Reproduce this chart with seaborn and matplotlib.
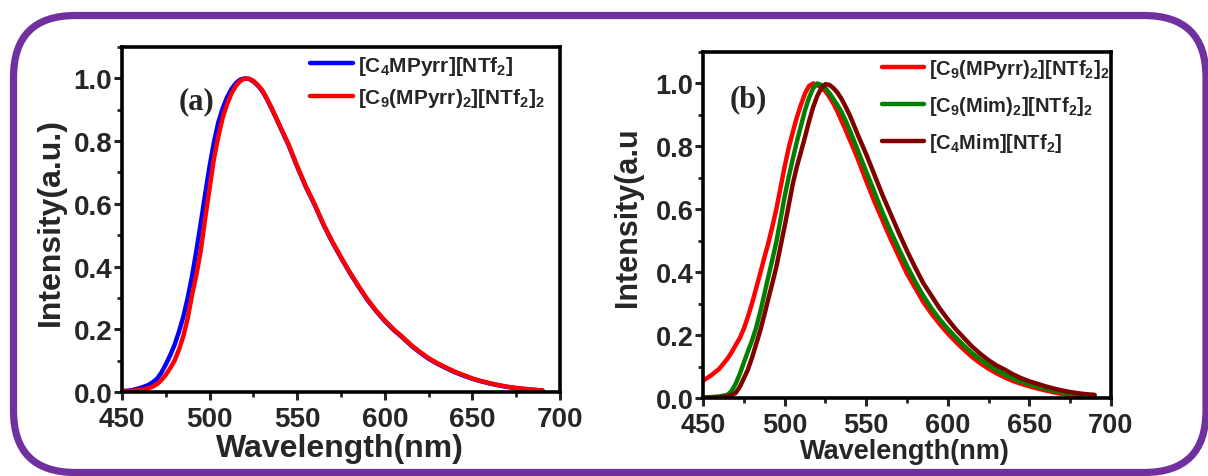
import numpy as np
import pandas as pd
import matplotlib
matplotlib.use("Agg")
import matplotlib.pyplot as plt
import seaborn as sns
from matplotlib.ticker import AutoMinorLocator, FormatStrFormatter
from matplotlib.patches import FancyBboxPatch

# ---------------- data ----------------
wavelength = [450, 455, 460, 465,
              467.5, 470, 472.5, 475, 477.5, 480, 482.5, 485, 487.5, 490,
              492.5, 495, 497.5, 500, 502.5, 505, 507.5, 510, 512.5, 515,
              517.5, 520, 522.5, 525, 527.5, 530, 532.5, 535, 537.5, 540,
              542.5, 545,
              550, 555, 560, 565, 570, 575, 580, 585, 590, 595, 600, 605, 610,
              615, 620, 625, 630, 635, 640, 645, 650, 655, 660, 665, 670, 675,
              680, 685, 690]

# panel (a)
a_c4mpyrr = [0.003, 0.005, 0.012, 0.022,
             0.031, 0.042, 0.062, 0.088, 0.117, 0.150, 0.192, 0.240, 0.300, 0.370,
             0.452, 0.540, 0.632, 0.720, 0.797, 0.860, 0.905, 0.940, 0.966, 0.985,
             0.996, 1.000, 0.998, 0.990, 0.977, 0.960, 0.936, 0.908, 0.879, 0.848,
             0.818, 0.788,
             0.718, 0.653, 0.596, 0.533, 0.478, 0.428, 0.380, 0.336, 0.294, 0.258,
             0.226, 0.198, 0.174, 0.148, 0.126, 0.106, 0.090, 0.076, 0.063, 0.052,
             0.042, 0.034, 0.027, 0.021, 0.016, 0.012, 0.009, 0.007, 0.005]
a_c9mpyrr2 = [0.002, 0.003, 0.006, 0.012,
              0.017, 0.025, 0.038, 0.055, 0.076, 0.100, 0.135, 0.178, 0.235, 0.310,
              0.375, 0.452, 0.555, 0.650, 0.745, 0.815, 0.875, 0.918, 0.952, 0.976,
              0.992, 0.999, 0.999, 0.992, 0.979, 0.963, 0.938, 0.910, 0.880, 0.850,
              0.820, 0.790,
              0.720, 0.655, 0.598, 0.535, 0.480, 0.430, 0.382, 0.338, 0.296, 0.260,
              0.228, 0.200, 0.176, 0.150, 0.128, 0.108, 0.092, 0.078, 0.065, 0.054,
              0.043, 0.035, 0.028, 0.022, 0.017, 0.013, 0.010, 0.007, 0.005]

# panel (b)
b_c9mpyrr2 = [0.055, 0.072, 0.093, 0.125,
              0.145, 0.168, 0.190, 0.220, 0.258, 0.300, 0.348, 0.395, 0.445, 0.492,
              0.545, 0.602, 0.668, 0.735, 0.795, 0.845, 0.892, 0.932, 0.968, 0.992,
              1.000, 0.995, 0.987, 0.975, 0.957, 0.935, 0.909, 0.880, 0.851, 0.820,
              0.790, 0.758,
              0.690, 0.625, 0.565, 0.505, 0.450, 0.395, 0.350, 0.305, 0.268, 0.235,
              0.205, 0.178, 0.153, 0.130, 0.110, 0.093, 0.078, 0.065, 0.054, 0.045,
              0.037, 0.030, 0.024, 0.018, 0.013, 0.009, 0.006, 0.003, 0.001]
b_c9mim2 = [0.002, 0.003, 0.005, 0.010,
            0.022, 0.045, 0.076, 0.112, 0.148, 0.182, 0.222, 0.272, 0.328, 0.385,
            0.440, 0.498, 0.568, 0.640, 0.702, 0.760, 0.815, 0.865, 0.915, 0.955,
            0.985, 1.000, 0.995, 0.985, 0.969, 0.950, 0.930, 0.908, 0.880, 0.850,
            0.818, 0.785,
            0.720, 0.655, 0.590, 0.530, 0.474, 0.420, 0.370, 0.325, 0.285, 0.250,
            0.220, 0.192, 0.166, 0.142, 0.122, 0.104, 0.088, 0.074, 0.062, 0.052,
            0.044, 0.036, 0.029, 0.023, 0.018, 0.014, 0.010, 0.007, 0.005]
b_c4mim = [0.000, 0.001, 0.002, 0.005,
           0.009, 0.016, 0.035, 0.062, 0.090, 0.128, 0.170, 0.213, 0.262, 0.315,
           0.365, 0.418, 0.482, 0.545, 0.612, 0.680, 0.735, 0.782, 0.830, 0.880,
           0.925, 0.960, 0.985, 0.998, 0.995, 0.985, 0.970, 0.950, 0.925, 0.898,
           0.867, 0.835,
           0.775, 0.710, 0.645, 0.585, 0.525, 0.468, 0.415, 0.365, 0.325, 0.285,
           0.250, 0.218, 0.190, 0.163, 0.140, 0.120, 0.103, 0.090, 0.075, 0.063,
           0.053, 0.045, 0.037, 0.030, 0.024, 0.019, 0.015, 0.012, 0.010]

labels_a = [r"[C$_4$MPyrr][NTf$_2$]", r"[C$_9$(MPyrr)$_2$][NTf$_2$]$_2$"]
labels_b = [r"[C$_9$(MPyrr)$_2$][NTf$_2$]$_2$", r"[C$_9$(Mim)$_2$][NTf$_2$]$_2$",
            r"[C$_4$Mim][NTf$_2$]"]
colors_a = ["#0000FF", "#FF0000"]
colors_b = ["#FF0000", "#008000", "#800000"]
xticks = [450, 500, 550, 600, 650, 700]
yticks = [0.0, 0.2, 0.4, 0.6, 0.8, 1.0]

# ---------------- style ----------------
sns.set_style("ticks")
plt.rcParams["font.family"] = ["Liberation Sans", "DejaVu Sans"]
plt.rcParams["font.weight"] = "bold"
plt.rcParams["axes.labelweight"] = "bold"
plt.rcParams["mathtext.fontset"] = "custom"
plt.rcParams["mathtext.rm"] = "Liberation Sans:bold"
plt.rcParams["mathtext.it"] = "Liberation Sans:bold"
plt.rcParams["mathtext.bf"] = "Liberation Sans:bold"
plt.rcParams["mathtext.sf"] = "Liberation Sans:bold"

fig = plt.figure(figsize=(12.08, 4.77), dpi=100)
fig.patch.set_facecolor("white")

ax_a = fig.add_axes([122 / 1208, 1 - 393 / 477, (560 - 122) / 1208, (393 - 48) / 477])
ax_b = fig.add_axes([703 / 1208, 1 - 399 / 477, (1111 - 703) / 1208, (399 - 53) / 477])

line_kw = dict(linewidth=3.2, solid_joinstyle="round", solid_capstyle="round")


def style_axis(ax, tick_fs, xlabel, ylabel, xl_fs, yl_fs, xl_pos, yl_pos):
    ax.set_xlim(450, 700)
    ax.set_ylim(0, 1.1)
    ax.set_xticks(xticks)
    ax.set_yticks(yticks)
    ax.yaxis.set_major_formatter(FormatStrFormatter("%.1f"))
    ax.xaxis.set_minor_locator(AutoMinorLocator(2))
    ax.yaxis.set_minor_locator(AutoMinorLocator(2))
    for s in ax.spines.values():
        s.set_linewidth(2.6)
        s.set_color("black")
    ax.tick_params(axis="both", which="major", direction="out", length=6, width=2.2,
                   labelsize=tick_fs, top=False, right=False)
    ax.tick_params(axis="x", which="major", pad=4)
    ax.tick_params(axis="y", which="major", pad=1)
    ax.tick_params(axis="both", which="minor", direction="out", length=3.5, width=2.0,
                   top=False, right=False)
    for lab in ax.get_xticklabels() + ax.get_yticklabels():
        lab.set_fontweight("bold")
    ax.set_xlabel(xlabel, fontsize=xl_fs, fontweight="bold")
    ax.set_ylabel(ylabel, fontsize=yl_fs, fontweight="bold")
    ax.xaxis.set_label_coords(*xl_pos)
    ax.yaxis.set_label_coords(*yl_pos)
    ax.set_facecolor("white")


# ---------------- panel (a) ----------------
n = len(wavelength)
df_a = pd.DataFrame({"Wavelength": wavelength * 2,
                     "Intensity": a_c4mpyrr + a_c9mpyrr2,
                     "Sample": [labels_a[0]] * n + [labels_a[1]] * n})
sns.lineplot(data=df_a, x="Wavelength", y="Intensity", hue="Sample",
             palette=dict(zip(labels_a, colors_a)), hue_order=labels_a,
             ax=ax_a, legend=False, **line_kw)
style_axis(ax_a, 20, "Wavelength(nm)", "Intensity(a.u.)", 23, 23,
           (0.498, -0.118), (-0.128, 0.497))
ax_a.text(0.171, 0.843, "(a)", transform=ax_a.transAxes, fontsize=22,
          fontweight="bold", family="Liberation Serif", ha="center", va="center")
h_a = [plt.Line2D([], [], color=c, linewidth=3.2) for c in colors_a]
ax_a.legend(h_a, labels_a, loc="upper left", bbox_to_anchor=(0.429, 0.981),
            frameon=False, fontsize=15, borderpad=0, borderaxespad=0,
            handlelength=2.05, handletextpad=0.25, labelspacing=0.45)

# ---------------- panel (b) ----------------
df_b = pd.DataFrame({"Wavelength": wavelength * 3,
                     "Intensity": b_c9mpyrr2 + b_c9mim2 + b_c4mim,
                     "Sample": sum([[l] * n for l in labels_b], [])})
sns.lineplot(data=df_b, x="Wavelength", y="Intensity", hue="Sample",
             palette=dict(zip(labels_b, colors_b)), hue_order=labels_b,
             ax=ax_b, legend=False, **line_kw)
style_axis(ax_b, 19.5, "Wavelength(nm)", "Intensity(a.u", 19.5, 22,
           (0.495, -0.115), (-0.147, 0.525))
ax_b.text(0.110, 0.864, "(b)", transform=ax_b.transAxes, fontsize=22,
          fontweight="bold", family="Liberation Serif", ha="center", va="center")
h_b = [plt.Line2D([], [], color=c, linewidth=3.2) for c in colors_b]
ax_b.legend(h_b, labels_b, loc="upper left", bbox_to_anchor=(0.439, 0.985),
            frameon=False, fontsize=14.5, borderpad=0, borderaxespad=0,
            handlelength=2.1, handletextpad=0.25, labelspacing=0.68)

# ---------------- purple rounded frame ----------------
frame = FancyBboxPatch((0.135, 0.035), 12.06 - 0.135, 4.605 - 0.035,
                       boxstyle="round,pad=0,rounding_size=0.62",
                       transform=fig.dpi_scale_trans, facecolor="none",
                       edgecolor="#7030A0", linewidth=5.2, zorder=0)
fig.add_artist(frame)

fig.savefig("out.png", dpi=100, facecolor="white")
